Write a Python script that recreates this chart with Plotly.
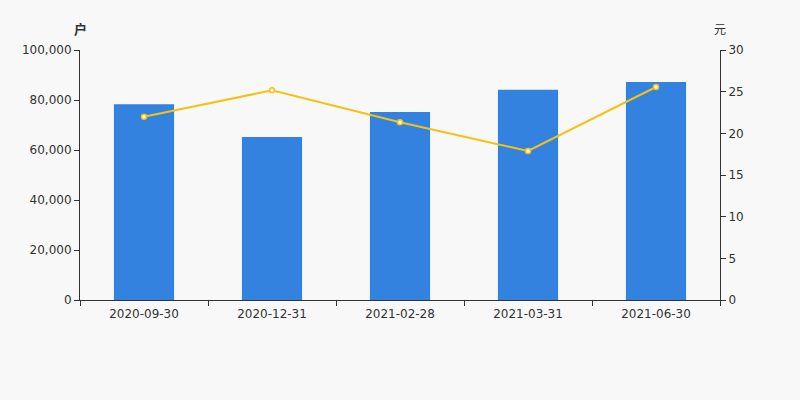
import plotly.graph_objects as go

categories = ["2020-09-30", "2020-12-31", "2021-02-28", "2021-03-31", "2021-06-30"]
households = [78300, 65200, 75200, 84100, 87200]
price = [22.0, 25.16, 21.32, 17.88, 25.56]
left_ticks = [0, 20000, 40000, 60000, 80000, 100000]
left_labels = ["0", "20,000", "40,000", "60,000", "80,000", "100,000"]
right_ticks = [0, 5, 10, 15, 20, 25, 30]

bar_color = "#3382e0"
line_color = "#f5c211"
axis_color = "#333333"

fig = go.Figure()
fig.add_trace(go.Bar(x=categories, y=households, marker=dict(color=bar_color, line=dict(width=0)),
                     yaxis="y", name="户"))
fig.add_trace(go.Scatter(x=categories, y=price, yaxis="y2", mode="lines+markers",
                         line=dict(color=line_color, width=2),
                         marker=dict(size=5, color="white", line=dict(color=line_color, width=1.5)),
                         name="元"))

fig.update_layout(
    width=800, height=400,
    margin=dict(l=80, r=80, t=50, b=100),
    paper_bgcolor="#f8f8f8", plot_bgcolor="#f8f8f8",
    showlegend=False,
    bargap=0.53,
    font=dict(family="DejaVu Sans", size=12, color=axis_color),
    xaxis=dict(type="category", showgrid=False, showline=True, linecolor=axis_color, linewidth=1,
               ticks="outside", tickson="boundaries", ticklen=5, tickcolor=axis_color,
               ticklabelstandoff=3,
               tickfont=dict(size=12, color=axis_color), zeroline=False),
    yaxis=dict(range=[0, 100000], tickvals=left_ticks, ticktext=left_labels, showgrid=False,
               showline=True, linecolor=axis_color, linewidth=1, ticks="outside", ticklen=5,
               tickcolor=axis_color, zeroline=False, tickfont=dict(size=12, color=axis_color)),
    yaxis2=dict(range=[0, 30], tickvals=right_ticks, overlaying="y", side="right", showgrid=False,
                showline=True, linecolor=axis_color, linewidth=1, ticks="outside", ticklen=5,
                tickcolor=axis_color, zeroline=False, tickfont=dict(size=12, color=axis_color)),
    annotations=[
        dict(text="<b>户</b>", xref="paper", yref="paper", x=0, y=1, xshift=0, yshift=22,
             xanchor="center", yanchor="middle", showarrow=False,
             font=dict(size=13, color=axis_color, family="Noto Sans CJK SC")),
        dict(text="元", xref="paper", yref="paper", x=1, y=1, xshift=0, yshift=22,
             xanchor="center", yanchor="middle", showarrow=False,
             font=dict(size=12, color=axis_color, family="Noto Sans CJK SC")),
    ],
)

fig.write_html(
    "out.html",
    config={"displayModeBar": False},
    post_script="document.body.style.margin='0';document.body.style.background='#f8f8f8';",
)
